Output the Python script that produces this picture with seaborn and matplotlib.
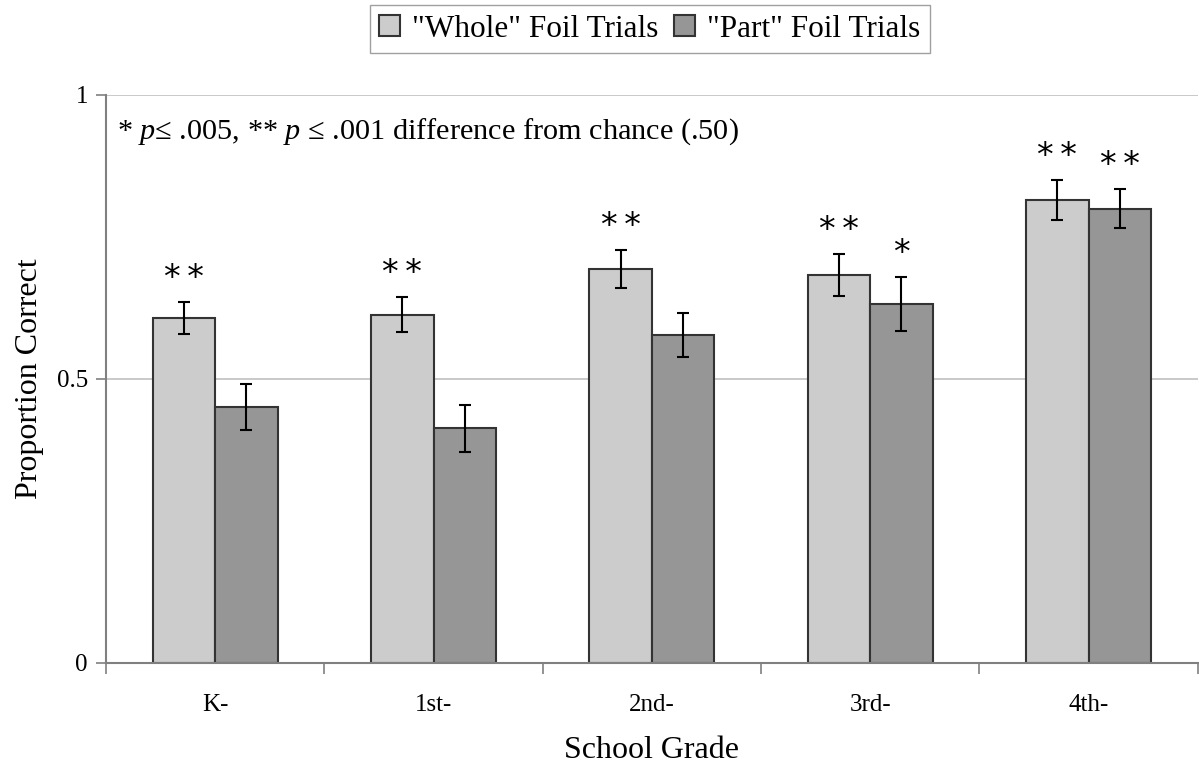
import matplotlib.pyplot as plt
import numpy as np
import pandas as pd
import seaborn as sns

# Values
grades = ['K-', '1st-', '2nd-', '3rd-', '4th-']
trial_types = ['"Whole" Foil Trials', '"Part" Foil Trials']
whole_mean = [0.608, 0.613, 0.694, 0.683, 0.815]
whole_err = [0.028, 0.031, 0.033, 0.037, 0.036]
part_mean = [0.451, 0.413, 0.577, 0.632, 0.800]
part_err = [0.040, 0.041, 0.039, 0.047, 0.034]
whole_stars = ['**', '**', '**', '**', '**']
part_stars = ['', '', '', '*', '**']
y_ticks = [0, 0.5, 1]
y_tick_labels = ['0', '0.5', '1']

sns.set_theme(style='white')
plt.rcParams['font.family'] = ['Liberation Serif', 'DejaVu Serif']
plt.rcParams['mathtext.fontset'] = 'custom'
plt.rcParams['mathtext.rm'] = 'Liberation Serif'
plt.rcParams['mathtext.it'] = 'Liberation Serif:italic'
for key in ['text.color', 'axes.labelcolor', 'xtick.color', 'ytick.color']:
    plt.rcParams[key] = 'black'

df = pd.DataFrame({
    'grade': grades * 2,
    'trial': [trial_types[0]] * len(grades) + [trial_types[1]] * len(grades),
    'value': whole_mean + part_mean,
})

fig = plt.figure(figsize=(11.99, 7.72), dpi=100)
ax = fig.add_axes([0.0884, 0.1412, 0.9106, 0.7358])

sns.barplot(data=df, x='grade', y='value', hue='trial', order=grades,
            hue_order=trial_types, palette=['#cccccc', '#969696'],
            width=0.572, gap=0, errorbar=None, edgecolor='#333333',
            linewidth=1.5, saturation=1, ax=ax)

# error bars and significance stars on top of each bar
errs = [whole_err, part_err]
stars = [whole_stars, part_stars]
bar_groups = list(ax.containers)
for k, cont in enumerate(bar_groups):
    for i, bar in enumerate(cont):
        xc = bar.get_x() + bar.get_width() / 2
        h = bar.get_height()
        ax.errorbar(xc, h, yerr=errs[k][i], color='black', lw=1.5,
                    capsize=4.3, capthick=1.5, zorder=5)
        if stars[k][i]:
            ax.text(xc, h + errs[k][i] + 0.012, '\u2009'.join(stars[k][i]),
                    ha='center', va='bottom', fontsize=24,
                    fontfamily='DejaVu Sans', color='black')

ax.set_ylim(0, 1)
ax.set_xlim(-0.5, len(grades) - 0.5)
ax.set_yticks(y_ticks)
ax.set_yticklabels(y_tick_labels, fontsize=18)
for y in y_ticks[1:]:
    ax.axhline(y, color='#c0c0c0', lw=1.2, zorder=0)

# category boundary ticks on the x axis, labels centred between them
ax.set_xticks(np.arange(len(grades)))
ax.set_xticklabels(grades, fontsize=18)
ax.set_xticks(np.arange(-0.5, len(grades), 1), minor=True)
ax.tick_params(axis='x', which='major', length=0, pad=22)
ax.tick_params(axis='x', which='minor', length=8, color='#808080', width=1.2,
               direction='out', bottom=True)
ax.tick_params(axis='y', length=7, color='#808080', width=1.2, direction='out',
               left=True, pad=6)

for side in ['top', 'right']:
    ax.spines[side].set_visible(False)
for side in ['left', 'bottom']:
    ax.spines[side].set_color('#808080')
    ax.spines[side].set_linewidth(1.5)

ax.set_xlabel('School Grade', fontsize=23, labelpad=15)
ax.set_ylabel('Proportion Correct', fontsize=23, labelpad=9)

ax.text(0.01, 0.962, r'* $\it{p}$≤ .005, ** $\it{p}$ ≤ .001 difference from chance (.50)',
        transform=ax.transAxes, fontsize=21.8, ha='left', va='top')

ax.get_legend().remove()
handles, labels = ax.get_legend_handles_labels()
fig.legend(handles, labels, loc='upper center', bbox_to_anchor=(0.542, 0.993),
           ncol=2, fontsize=22.5, frameon=True, fancybox=False, edgecolor='#a0a0a0',
           framealpha=1, handlelength=0.65, handleheight=0.65, handletextpad=0.4,
           columnspacing=0.5, borderpad=0.3, borderaxespad=0)

fig.savefig('out.png', dpi=100)
